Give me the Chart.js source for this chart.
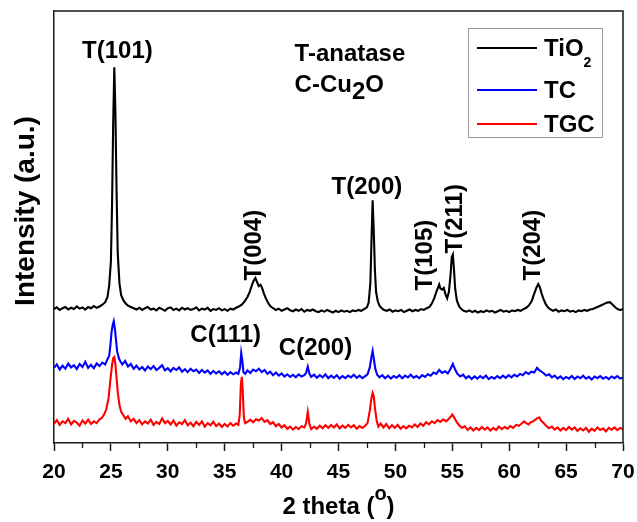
<!DOCTYPE html>
<html>
<head>
<meta charset="utf-8">
<title>XRD patterns</title>
<script src="https://cdn.jsdelivr.net/npm/chart.js@4.4.1/dist/chart.umd.min.js"></script>
<style>
  html, body { margin: 0; padding: 0; background: #ffffff; }
  canvas { display: block; }
</style>
</head>
<body>
<canvas id="xrd" width="637" height="522"></canvas>
<script>
// ---- diffraction data: [2 theta (deg), intensity (a.u., offset per sample)] ----
const tio2 = [
  [20,31.0],[20.25,31.4],[20.5,30.8],[20.75,31.2],[21,31.5],[21.25,30.9],[21.5,31.3],[21.75,31.0],
  [22,31.6],[22.25,31.1],[22.5,31.4],[22.75,30.9],[23,31.5],[23.25,31.2],[23.5,31.7],[23.75,31.3],
  [24,31.6],[24.25,32.0],[24.5,32.6],[24.7,33.8],[24.85,36.5],[25.0,42],[25.1,55],[25.2,74],
  [25.3,87],[25.4,76],[25.5,58],[25.6,44],[25.75,37],[25.9,34.2],[26.1,33],[26.3,32.3],
  [26.5,31.8],[26.75,31.5],[27,31.2],[27.25,30.9],[27.5,31.3],[27.75,30.8],[28,31.2],[28.25,31.5],
  [28.5,30.9],[28.75,31.1],[29,30.7],[29.25,31.3],[29.5,31.0],[29.75,30.6],[30,31.2],[30.25,31.4],
  [30.5,30.8],[30.75,31.1],[31,30.7],[31.25,31.3],[31.5,30.9],[31.75,31.2],[32,30.8],[32.25,31.0],
  [32.5,31.4],[32.75,30.7],[33,31.1],[33.25,30.9],[33.5,31.3],[33.75,30.6],[34,31.0],[34.25,30.8],
  [34.5,31.2],[34.75,30.7],[35,31.0],[35.25,30.6],[35.5,31.1],[35.75,30.9],[36,31.3],[36.25,31.6],
  [36.5,32.0],[36.75,32.8],[37.0,33.8],[37.2,35.0],[37.4,36.6],[37.55,37.6],[37.7,38.2],[37.85,37.2],
  [38.0,36.3],[38.15,36.6],[38.3,35.8],[38.45,34.6],[38.6,33.6],[38.8,32.5],[39.0,31.7],[39.25,31.2],
  [39.5,30.8],[39.75,31.1],[40,30.6],[40.25,30.9],[40.5,31.2],[40.75,30.7],[41,30.5],[41.25,30.9],
  [41.5,30.6],[41.75,31.0],[42,30.4],[42.25,30.8],[42.5,30.6],[42.75,30.9],[43,30.5],[43.25,30.3],
  [43.5,30.7],[43.75,30.4],[44,30.8],[44.25,30.5],[44.5,30.2],[44.75,30.6],[45,30.3],[45.25,30.7],
  [45.5,30.4],[45.75,30.6],[46,30.3],[46.25,30.7],[46.5,30.5],[46.75,30.8],[47,30.6],[47.25,31.0],
  [47.5,31.4],[47.65,32.5],[47.8,37],[47.9,47],[48.0,56.2],[48.1,49],[48.2,40],[48.3,35],
  [48.45,32.8],[48.6,31.8],[48.8,31.2],[49,30.8],[49.25,30.6],[49.5,30.9],[49.75,30.4],[50,30.7],
  [50.25,30.5],[50.5,30.8],[50.75,30.3],[51,30.6],[51.25,30.9],[51.5,30.5],[51.75,30.8],[52,30.6],
  [52.25,31.0],[52.5,30.8],[52.75,31.2],[53.0,31.5],[53.2,32.3],[53.4,33.4],[53.6,35.0],[53.75,36.0],
  [53.85,36.7],[53.95,35.8],[54.1,35.5],[54.25,35.9],[54.4,34.4],[54.55,33.5],[54.7,35.0],[54.85,39.0],
  [54.95,43.0],[55.05,43.6],[55.15,40.0],[55.25,35.8],[55.4,33.0],[55.6,31.6],[55.8,31.0],[56.0,30.6],
  [56.25,30.4],[56.5,30.7],[56.75,30.3],[57,30.6],[57.25,30.2],[57.5,30.5],[57.75,30.3],[58,30.7],
  [58.25,30.4],[58.5,30.6],[58.75,30.2],[59,30.5],[59.25,30.8],[59.5,30.4],[59.75,30.6],[60,30.3],
  [60.25,30.7],[60.5,30.5],[60.75,30.8],[61,30.6],[61.25,31.0],[61.5,31.3],[61.75,31.9],[62.0,33.0],
  [62.2,34.6],[62.4,36.0],[62.55,36.8],[62.7,36.0],[62.85,34.6],[63.0,33.4],[63.2,32.2],[63.4,31.4],
  [63.6,31.0],[63.85,30.6],[64.1,30.9],[64.35,30.4],[64.6,30.7],[64.85,30.5],[65.1,30.8],[65.35,30.4],
  [65.6,30.6],[65.85,30.3],[66.1,30.7],[66.35,30.5],[66.6,30.8],[66.85,30.6],[67.1,30.9],[67.35,31.0],
  [67.6,31.3],[67.85,31.6],[68.1,31.9],[68.35,32.2],[68.6,32.5],[68.85,32.6],[69.1,32.0],[69.35,31.3],
  [69.6,30.9],[69.8,30.8],[70,31.0]
];

const tc = [
  [20,17.4],[20.25,18.2],[20.5,17.0],[20.75,17.9],[21,17.2],[21.25,18.4],[21.5,17.5],[21.75,18.0],
  [22,17.1],[22.25,18.3],[22.5,17.6],[22.75,18.8],[23,17.4],[23.25,18.1],[23.5,17.3],[23.75,18.4],
  [24,17.8],[24.25,18.6],[24.5,18.2],[24.7,19.4],[24.85,20.2],[24.95,22.5],[25.05,25.5],[25.15,27.2],
  [25.25,28.2],[25.35,26.5],[25.45,23.8],[25.55,21.2],[25.7,19.6],[25.85,18.8],[26,18.2],[26.25,19.0],
  [26.5,17.7],[26.75,18.3],[27,17.2],[27.25,17.9],[27.5,17.0],[27.75,17.6],[28,16.8],[28.25,17.7],
  [28.5,17.1],[28.75,17.8],[29,16.9],[29.25,17.4],[29.5,18.0],[29.75,16.8],[30,17.3],[30.25,16.6],
  [30.5,17.4],[30.75,16.9],[31,17.5],[31.25,16.5],[31.5,17.1],[31.75,16.4],[32,17.2],[32.25,16.6],
  [32.5,17.0],[32.75,16.2],[33,16.9],[33.25,16.3],[33.5,16.8],[33.75,16.0],[34,16.7],[34.25,16.1],
  [34.5,16.6],[34.75,15.9],[35,16.5],[35.25,15.8],[35.5,16.4],[35.75,15.9],[36,16.3],[36.2,16.0],
  [36.35,17.5],[36.45,20.8],[36.55,19.0],[36.65,16.4],[36.8,16.0],[37,16.8],[37.25,16.2],[37.5,17.0],
  [37.75,16.6],[38,17.2],[38.25,16.4],[38.5,16.9],[38.75,16.0],[39,16.5],[39.25,15.7],[39.5,16.3],
  [39.75,15.6],[40,16.1],[40.25,15.4],[40.5,15.9],[40.75,15.3],[41,15.8],[41.25,15.2],[41.5,15.9],
  [41.75,15.4],[42,15.7],[42.15,16.2],[42.3,17.7],[42.45,16.0],[42.6,15.3],[42.85,15.8],[43.1,15.1],
  [43.35,15.7],[43.6,15.2],[43.85,15.9],[44.1,15.0],[44.35,15.6],[44.6,15.1],[44.85,15.7],[45.1,14.9],
  [45.35,15.5],[45.6,15.0],[45.85,15.6],[46.1,15.2],[46.35,15.8],[46.6,15.1],[46.85,15.6],[47.1,15.0],
  [47.35,15.5],[47.55,15.9],[47.75,17.5],[47.9,20.0],[48.0,21.3],[48.1,19.5],[48.25,17.0],[48.4,15.8],
  [48.6,15.2],[48.85,15.7],[49.1,15.0],[49.35,15.6],[49.6,14.9],[49.85,15.5],[50.1,15.1],[50.35,15.7],
  [50.6,15.0],[50.85,15.6],[51.1,15.2],[51.35,15.8],[51.6,15.1],[51.85,15.5],[52.1,15.0],[52.35,15.7],
  [52.6,15.3],[52.85,15.9],[53.1,15.6],[53.35,16.3],[53.6,16.0],[53.85,16.9],[54.1,16.2],[54.35,16.6],
  [54.6,16.1],[54.85,17.2],[55.05,18.3],[55.25,17.0],[55.45,16.0],[55.7,15.4],[55.95,15.8],[56.2,15.0],
  [56.45,15.5],[56.7,14.8],[56.95,15.4],[57.2,14.9],[57.45,15.5],[57.7,15.0],[57.95,15.6],[58.2,14.8],
  [58.45,15.3],[58.7,14.9],[58.95,15.5],[59.2,15.0],[59.45,15.6],[59.7,15.1],[59.95,15.7],[60.2,15.2],
  [60.45,15.8],[60.7,15.4],[60.95,16.0],[61.2,15.7],[61.45,16.4],[61.7,16.0],[61.95,16.5],[62.2,16.3],
  [62.45,17.4],[62.6,16.9],[62.8,16.6],[63.0,16.2],[63.25,15.6],[63.5,15.9],[63.75,15.2],[64,15.6],
  [64.25,14.9],[64.5,15.4],[64.75,14.8],[65,15.3],[65.25,14.9],[65.5,15.5],[65.75,14.8],[66,15.4],
  [66.25,15.0],[66.5,15.6],[66.75,14.9],[67,15.3],[67.25,14.7],[67.5,15.4],[67.75,15.0],[68,15.5],
  [68.25,14.9],[68.5,15.3],[68.75,14.8],[69,15.4],[69.25,15.0],[69.5,15.5],[69.75,14.9],[70,15.2]
];

const tgc = [
  [20,4.4],[20.25,5.3],[20.5,4.2],[20.75,5.0],[21,4.6],[21.25,5.6],[21.5,4.3],[21.75,5.1],
  [22,4.7],[22.25,4.0],[22.5,5.2],[22.75,4.5],[23,5.4],[23.25,4.4],[23.5,5.0],[23.75,4.6],
  [24,5.5],[24.2,5.8],[24.4,6.6],[24.6,7.8],[24.8,10.5],[24.95,14.5],[25.1,18.0],[25.2,19.6],
  [25.3,19.9],[25.4,18.2],[25.5,15.0],[25.6,11.8],[25.75,8.8],[25.9,7.2],[26.1,6.4],[26.3,5.6],
  [26.5,6.2],[26.75,5.0],[27,5.6],[27.25,4.6],[27.5,5.3],[27.75,4.3],[28,5.0],[28.25,4.5],
  [28.5,5.4],[28.75,4.2],[29,4.9],[29.25,4.4],[29.5,5.7],[29.75,4.6],[30,5.1],[30.25,4.3],
  [30.5,5.2],[30.75,4.0],[31,4.8],[31.25,4.4],[31.5,5.3],[31.75,4.1],[32,4.7],[32.25,3.9],
  [32.5,4.9],[32.75,4.2],[33,5.0],[33.25,3.8],[33.5,4.6],[33.75,4.1],[34,4.9],[34.25,3.9],
  [34.5,4.5],[34.75,3.7],[35,4.4],[35.25,3.8],[35.5,4.6],[35.75,4.0],[36,4.5],[36.2,4.2],
  [36.32,6.5],[36.42,13.5],[36.5,15.3],[36.58,12.5],[36.68,6.0],[36.8,4.6],[37,4.9],[37.25,5.4],
  [37.5,4.8],[37.75,5.5],[38,5.2],[38.25,5.8],[38.5,4.9],[38.75,5.3],[39,4.4],[39.25,4.8],
  [39.5,3.9],[39.75,4.4],[40,3.6],[40.25,4.1],[40.5,3.3],[40.75,3.8],[41,3.1],[41.25,3.7],
  [41.5,3.2],[41.75,3.9],[42,3.6],[42.15,4.5],[42.3,7.2],[42.45,4.4],[42.6,3.2],[42.85,3.8],
  [43.1,3.3],[43.35,4.0],[43.6,3.4],[43.85,4.1],[44.1,3.5],[44.35,4.2],[44.6,3.6],[44.85,4.3],
  [45.1,3.4],[45.35,4.0],[45.6,3.5],[45.85,4.2],[46.1,3.6],[46.35,4.1],[46.6,3.3],[46.85,3.9],
  [47.1,3.5],[47.35,4.0],[47.55,4.6],[47.75,7.5],[47.9,10.5],[48.0,11.6],[48.1,10.8],[48.2,8.2],
  [48.35,5.2],[48.5,3.8],[48.7,4.5],[48.95,3.6],[49.2,4.4],[49.45,3.4],[49.7,4.1],[49.95,3.5],
  [50.2,4.2],[50.45,3.3],[50.7,3.9],[50.95,3.4],[51.2,4.0],[51.45,3.6],[51.7,4.3],[51.95,3.7],
  [52.2,4.5],[52.45,4.0],[52.7,4.8],[52.95,4.3],[53.2,5.0],[53.45,4.6],[53.7,5.3],[53.95,4.9],
  [54.2,5.5],[54.45,5.0],[54.7,5.6],[54.9,6.2],[55.0,6.6],[55.15,6.0],[55.35,5.0],[55.6,4.1],
  [55.85,3.5],[56.1,3.9],[56.35,3.0],[56.6,3.6],[56.85,2.9],[57.1,3.5],[57.35,3.0],[57.6,3.7],
  [57.85,3.1],[58.1,3.6],[58.35,2.9],[58.6,3.5],[58.85,3.0],[59.1,3.8],[59.35,3.2],[59.6,3.7],
  [59.85,3.3],[60.1,3.9],[60.35,3.5],[60.6,4.2],[60.85,4.0],[61.1,4.5],[61.3,5.0],[61.5,4.6],
  [61.7,4.3],[61.9,4.8],[62.1,5.0],[62.3,5.4],[62.5,5.8],[62.65,5.9],[62.8,5.2],[63.0,4.7],
  [63.25,4.0],[63.5,3.4],[63.75,3.8],[64,3.1],[64.25,3.6],[64.5,2.9],[64.75,3.5],[65,3.0],
  [65.25,3.7],[65.5,3.1],[65.75,3.6],[66,2.8],[66.25,3.4],[66.5,2.9],[66.75,3.5],[67,2.6],
  [67.25,3.3],[67.5,2.8],[67.75,3.6],[68,3.0],[68.25,3.4],[68.5,2.7],[68.75,3.5],[69,3.1],
  [69.25,3.6],[69.5,3.0],[69.75,3.5],[70,3.2]
];

// axis ticks (2 theta)
const majorTicks = [20, 25, 30, 35, 40, 45, 50, 55, 60, 65, 70];
const minorTicks = [22.5, 27.5, 32.5, 37.5, 42.5, 47.5, 52.5, 57.5, 62.5, 67.5];

// reflection labels, anchored at [2 theta, intensity]
const peakLabels = [
  { text: 'T(101)', at: [25.57, 90.4], vertical: false },
  { text: 'T(004)', at: [37.63, 45.8], vertical: true },
  { text: 'T(200)', at: [47.50, 59.1], vertical: false },
  { text: 'T(105)', at: [52.72, 43.5], vertical: true },
  { text: 'T(211)', at: [55.35, 51.9], vertical: true },
  { text: 'T(204)', at: [62.19, 45.8], vertical: true },
  { text: 'C(111)', at: [35.09, 24.8], vertical: false },
  { text: 'C(200)', at: [42.98, 21.8], vertical: false }
];

// phase key: text runs [string, font px, baseline shift]
const phaseKey = [
  { runs: [['T-anatase', 24, 0]], at: [41.14, 90.2] },
  { runs: [['C-Cu', 24, 0], ['2', 24, 7], ['O', 24, 0]], at: [41.14, 83.2] }
];

const FONT = "'Liberation Sans', Arial, Helvetica, sans-serif";

function drawRuns(ctx, runs, x, y, align) {
  let w = 0;
  runs.forEach(r => { ctx.font = `bold ${r[1]}px ${FONT}`; w += ctx.measureText(r[0]).width; });
  let cx = align === 'center' ? x - w / 2 : x;
  runs.forEach(r => {
    ctx.font = `bold ${r[1]}px ${FONT}`;
    ctx.fillText(r[0], cx, y + r[2]);
    cx += ctx.measureText(r[0]).width;
  });
}

const decorations = {
  id: 'decorations',
  afterDraw(chart) {
    const { ctx, chartArea: a, scales: { x, y } } = chart;
    ctx.save();

    // frame: top and right edges
    ctx.strokeStyle = '#1a1a1a';
    ctx.lineWidth = 1.5;
    ctx.beginPath();
    ctx.moveTo(a.left, a.top);
    ctx.lineTo(a.right, a.top);
    ctx.lineTo(a.right, a.bottom);
    ctx.stroke();

    // minor ticks on the 2 theta axis
    ctx.lineWidth = 1.3;
    minorTicks.forEach(v => {
      const px = Math.round(x.getPixelForValue(v)) + 0.5;
      ctx.beginPath();
      ctx.moveTo(px, a.bottom);
      ctx.lineTo(px, a.bottom + 5);
      ctx.stroke();
    });

    ctx.fillStyle = '#000';
    ctx.textBaseline = 'alphabetic';
    ctx.textAlign = 'left';

    // axis titles
    const midX = (a.left + a.right) / 2;
    drawRuns(ctx, [['2 theta (', 24, 0], ['o', 20, -14], [')', 24, 0]], midX, 514, 'center');

    ctx.save();
    ctx.translate(34, 211);
    ctx.rotate(-Math.PI / 2);
    drawRuns(ctx, [['Intensity (a.u.)', 28, 0]], 0, 0, 'center');
    ctx.restore();

    // reflection labels
    peakLabels.forEach(l => {
      const px = x.getPixelForValue(l.at[0]);
      const py = y.getPixelForValue(l.at[1]);
      if (l.vertical) {
        ctx.save();
        ctx.translate(px, py);
        ctx.rotate(-Math.PI / 2);
        drawRuns(ctx, [[l.text, 24, 0]], 0, 6, 'center');
        ctx.restore();
      } else {
        drawRuns(ctx, [[l.text, 24, 0]], px, py + 6, 'center');
      }
    });

    // phase key
    phaseKey.forEach(k => {
      const px = x.getPixelForValue(k.at[0]);
      const py = y.getPixelForValue(k.at[1]);
      drawRuns(ctx, k.runs, px, py + 8, 'left');
    });

    // legend
    const legendRuns = [
      [['TiO', 24, 0], ['2', 14, 11]],
      [['TC', 24, 0]],
      [['TGC', 24, 0]]
    ];
    const rowY = [48, 90, 124];
    ctx.strokeStyle = '#9a9a9a';
    ctx.lineWidth = 1;
    ctx.strokeRect(468.5, 28.5, 134, 109);
    chart.data.datasets.forEach((ds, i) => {
      ctx.strokeStyle = ds.borderColor;
      ctx.lineWidth = 2;
      ctx.beginPath();
      ctx.moveTo(477, rowY[i]);
      ctx.lineTo(537, rowY[i]);
      ctx.stroke();
      ctx.fillStyle = '#000';
      drawRuns(ctx, legendRuns[i], 544, rowY[i] + 8, 'left');
    });

    ctx.restore();
  }
};

const toPoints = arr => arr.map(p => ({ x: p[0], y: p[1] }));

new Chart(document.getElementById('xrd'), {
  type: 'line',
  data: {
    datasets: [
      { label: 'TiO2', data: toPoints(tio2), borderColor: '#000000' },
      { label: 'TC', data: toPoints(tc), borderColor: '#0000ff' },
      { label: 'TGC', data: toPoints(tgc), borderColor: '#ff0000' }
    ]
  },
  options: {
    responsive: false,
    animation: false,
    events: [],
    layout: { padding: { top: 11, right: 14, left: 0, bottom: 0 } },
    elements: {
      point: { radius: 0 },
      line: { borderWidth: 2.1, tension: 0 }
    },
    plugins: { legend: { display: false }, tooltip: { enabled: false } },
    scales: {
      x: {
        type: 'linear',
        min: 20,
        max: 70,
        afterBuildTicks: s => { s.ticks = majorTicks.map(v => ({ value: v })); },
        afterFit: s => { s.height = 79; s.paddingLeft = 0; s.paddingRight = 0; },
        ticks: {
          color: '#000',
          font: { family: FONT, size: 21, weight: 'bold' },
          padding: 9,
          maxRotation: 0,
          autoSkip: false
        },
        grid: {
          drawOnChartArea: false,
          drawTicks: true,
          tickLength: 8,
          tickColor: '#1a1a1a',
          tickWidth: 1.5
        },
        border: { display: true, color: '#1a1a1a', width: 1.5 }
      },
      y: {
        type: 'linear',
        min: 0,
        max: 100,
        afterFit: s => { s.width = 54; s.paddingTop = 0; s.paddingBottom = 0; },
        ticks: { display: false },
        grid: { drawOnChartArea: false, drawTicks: false },
        border: { display: true, color: '#1a1a1a', width: 1.5 }
      }
    }
  },
  plugins: [decorations]
});
</script>
</body>
</html>
